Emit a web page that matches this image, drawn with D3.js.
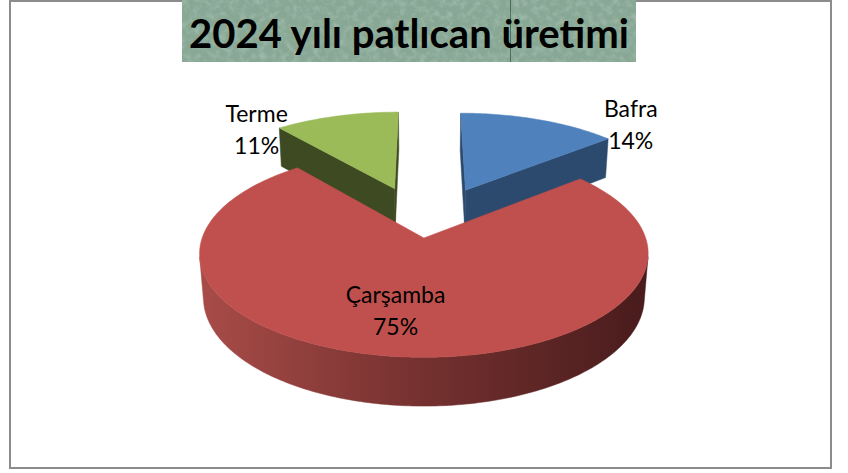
<!DOCTYPE html>
<html>
<head>
<meta charset="utf-8">
<script src="https://cdn.jsdelivr.net/npm/d3@7"></script>
<style>
  body { margin: 0; background: #fff; }
  svg { display: block; }
</style>
</head>
<body>
<div class="canvas"></div>
<script>
// data
const names = ['Bafra', 'Çarşamba', 'Terme']
const values = [14, 75, 11]
const title = '2024 yılı patlıcan üretimi'

// slice looks
const topColors = ['#4f81bd', '#c0504d', '#9bbb59']
const sideColors = ['#2c4a6e', 'url(#redSide)', '#3e4a22']
const explode = [0.45, 0.1, 0.45]
// label spot: angle offset from mid angle (deg) and radius
const labelSpot = [{ da: 22.5, r: 1.24 }, { da: 4.6, r: 0.66 }, { da: -25.7, r: 1.06 }]

const width = 848
const height = 473

const svg = d3.select('.canvas')
  .append('svg')
  .attr('width', width)
  .attr('height', height)

const defs = svg.append('defs')

const grad = defs.append('linearGradient')
  .attr('id', 'redSide')
  .attr('gradientUnits', 'userSpaceOnUse')
  .attr('x1', 200).attr('x2', 652)
  .attr('y1', 0).attr('y2', 0)
grad.append('stop').attr('offset', 0).attr('stop-color', '#a84c48')
grad.append('stop').attr('offset', 0.5).attr('stop-color', '#74302f')
grad.append('stop').attr('offset', 1).attr('stop-color', '#481b1c')

const tex = defs.append('filter')
  .attr('id', 'tex')
  .attr('x', 0).attr('y', 0).attr('width', 1).attr('height', 1)
tex.append('feTurbulence')
  .attr('type', 'fractalNoise')
  .attr('baseFrequency', 0.15)
  .attr('numOctaves', 3)
  .attr('seed', 7)
tex.append('feColorMatrix')
  .attr('type', 'matrix')
  .attr('values', '0 0 0 0 0.8  0 0 0 0 0.84  0 0 0 0 0.82  1.4 0 0 0 -0.6')

// chart frame
svg.append('rect')
  .attr('x', 10).attr('y', 1)
  .attr('width', 821).attr('height', 467)
  .attr('fill', '#fff')
  .attr('stroke', '#8c8c8c')
  .attr('stroke-width', 2)

// title box
const tg = svg.append('g')
tg.append('rect')
  .attr('x', 182).attr('y', 0)
  .attr('width', 454).attr('height', 62)
  .attr('fill', '#88a895')
tg.append('rect')
  .attr('x', 182).attr('y', 0)
  .attr('width', 454).attr('height', 62)
  .attr('fill', '#fff')
  .attr('filter', 'url(#tex)')
  .attr('opacity', 0.4)
tg.append('line')
  .attr('x1', 510.5).attr('x2', 510.5)
  .attr('y1', 0).attr('y2', 62)
  .attr('stroke', '#4f6e5a')
  .attr('stroke-width', 1)
const titleText = tg.append('text')
  .attr('x', 409).attr('y', 48)
  .attr('text-anchor', 'middle')
  .attr('font-family', 'Lato, "Open Sans", sans-serif')
  .attr('font-weight', 'bold')
  .attr('font-size', 40)
  .attr('fill', '#000')
  .text(title)
const tw = titleText.node().getComputedTextLength()
titleText.attr('font-size', 40 * 440 / tw)

// 3d projection
const cam = { cx: 426, cy: 228, F: 1322, D: 6.05, tilt: 26.8 * Math.PI / 180 }
const depthH = 0.225
const sa = Math.sin(cam.tilt)
const ca = Math.cos(cam.tilt)
function proj(X, Z, h) {
  const up = Z * sa + h * ca
  const dep = cam.D + Z * ca - h * sa
  return [cam.cx + cam.F * X / dep, cam.cy - cam.F * up / dep]
}

const pie = d3.pie().sort(null).value(d => d)
const arcs = pie(values)

const rad = d3.scaleLinear().domain([0, 360]).range([0, 2 * Math.PI])

function area(pts) {
  let s = 0
  for (let i = 0; i < pts.length; i++) {
    const a = pts[i], b = pts[(i + 1) % pts.length]
    s += a[0] * b[1] - b[0] * a[1]
  }
  return s
}
const line = d3.line()
const toPath = pts => line(pts) + 'Z'

const slices = arcs.map((a, i) => {
  const mid = (a.startAngle + a.endAngle) / 2
  const ox = explode[i] * Math.sin(mid)
  const oz = explode[i] * Math.cos(mid)
  const rim = (t, h) => proj(ox + Math.sin(t), oz + Math.cos(t), h)
  const apex = h => proj(ox, oz, h)
  const steps = Math.max(2, Math.ceil((a.endAngle - a.startAngle) / rad(1)))
  const ts = d3.range(steps + 1).map(k => a.startAngle + (a.endAngle - a.startAngle) * k / steps)
  return { a, i, mid, ox, oz, rim, apex, ts }
})

// far slices first, nearest last
const order = slices.slice().sort((p, q) => q.oz - p.oz)

const pieG = svg.append('g')

order.forEach(s => {
  const g = pieG.append('g')
  const hb = -depthH
  const faces = []
  // start radial face
  faces.push([s.apex(0), s.apex(hb), s.rim(s.a.startAngle, hb), s.rim(s.a.startAngle, 0)])
  // end radial face
  faces.push([s.apex(0), s.rim(s.a.endAngle, 0), s.rim(s.a.endAngle, hb), s.apex(hb)])
  faces.forEach(f => {
    if (area(f) > 0) {
      g.append('path').attr('d', toPath(f)).attr('fill', sideColors[s.i])
        .attr('stroke', sideColors[s.i]).attr('stroke-width', 0.5)
    }
  })
  // outer wall, front facing runs joined
  let run = []
  const flush = () => {
    if (run.length > 1) {
      const pts = run.map(t => s.rim(t, 0)).concat(run.slice().reverse().map(t => s.rim(t, hb)))
      g.append('path').attr('d', toPath(pts)).attr('fill', sideColors[s.i])
        .attr('stroke', sideColors[s.i]).attr('stroke-width', 0.5)
    }
    run = []
  }
  for (let k = 0; k < s.ts.length - 1; k++) {
    const t1 = s.ts[k], t2 = s.ts[k + 1]
    const q = [s.rim(t1, 0), s.rim(t1, hb), s.rim(t2, hb), s.rim(t2, 0)]
    if (area(q) > 0) {
      if (run.length === 0) run.push(t1)
      run.push(t2)
    } else {
      flush()
    }
  }
  flush()
  // top face
  const topPts = [s.apex(0)].concat(s.ts.map(t => s.rim(t, 0)))
  g.append('path').attr('d', toPath(topPts)).attr('fill', topColors[s.i])
    .attr('stroke', topColors[s.i]).attr('stroke-width', 0.5)
})

// labels
const total = d3.sum(values)
const fmt = d3.format('.0%')
slices.forEach(s => {
  const spot = labelSpot[s.i]
  const t = s.mid + rad(spot.da)
  const p = proj(s.ox + spot.r * Math.sin(t), s.oz + spot.r * Math.cos(t), 0)
  const txt = svg.append('text')
    .attr('x', p[0]).attr('y', p[1])
    .attr('text-anchor', 'middle')
    .attr('font-family', 'Lato, "Open Sans", sans-serif')
    .attr('font-size', 23)
    .attr('fill', '#000')
  txt.append('tspan').attr('x', p[0]).attr('dy', -8).text(names[s.i])
  txt.append('tspan').attr('x', p[0]).attr('dy', 32).text(fmt(values[s.i] / total))
})
</script>
</body>
</html>
